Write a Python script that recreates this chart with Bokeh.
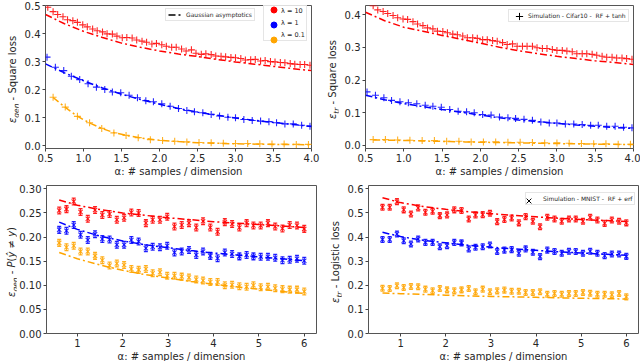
import numpy as np
from bokeh.plotting import figure
from bokeh.layouts import column, row
from bokeh.models import (FixedTicker, NumeralTickFormatter, Range1d, Legend,
                          LegendItem, Div, ColumnDataSource)
from bokeh.embed import file_html
from bokeh.resources import INLINE

FONT = "DejaVu Sans"
RED, BLUE, ORANGE = "#ff0000", "#0000ff", "#ffa500"
TXT = "#262626"

# ---------------- data: top panels (alpha 0.5 .. 4) ----------------
top_red_x = [0.53, 0.60, 0.66, 0.73, 0.79, 0.86, 0.92, 0.99, 1.05, 1.12,
             1.18, 1.25, 1.31, 1.38, 1.44, 1.51, 1.57, 1.64, 1.70, 1.77,
             1.83, 1.90, 1.96, 2.03, 2.09, 2.16, 2.22, 2.29, 2.35, 2.42,
             2.48, 2.55, 2.61, 2.68, 2.74, 2.81, 2.87, 2.94, 3.00, 3.07,
             3.13, 3.20, 3.26, 3.33, 3.39, 3.46, 3.52, 3.59, 3.65, 3.72,
             3.78, 3.85, 3.91, 3.98]
top_blue_x = [0.52, 0.63, 0.74, 0.84, 0.95, 1.06, 1.17, 1.28, 1.38, 1.49,
              1.60, 1.71, 1.82, 1.92, 2.03, 2.14, 2.25, 2.36, 2.46, 2.57,
              2.68, 2.79, 2.90, 3.00, 3.11, 3.22, 3.33, 3.44, 3.54, 3.65,
              3.76, 3.87, 3.98]
top_orange_x = [0.60, 0.76, 0.92, 1.08, 1.24, 1.40, 1.56, 1.72, 1.88, 2.04,
                2.20, 2.36, 2.52, 2.68, 2.84, 3.00, 3.16, 3.32, 3.48, 3.64,
                3.80, 3.96]

p1_red = [0.494, 0.478, 0.468, 0.460, 0.449, 0.446, 0.440, 0.431, 0.424, 0.416,
          0.410, 0.406, 0.399, 0.398, 0.391, 0.385, 0.386, 0.384, 0.377, 0.373,
          0.369, 0.363, 0.365, 0.360, 0.355, 0.351, 0.351, 0.345, 0.338, 0.342,
          0.330, 0.326, 0.328, 0.325, 0.320, 0.319, 0.317, 0.315, 0.314, 0.311,
          0.306, 0.307, 0.308, 0.302, 0.304, 0.300, 0.299, 0.297, 0.296, 0.293,
          0.291, 0.290, 0.290, 0.287]
p1_blue = [0.316, 0.280, 0.268, 0.248, 0.236, 0.221, 0.209, 0.201, 0.192, 0.189,
           0.180, 0.171, 0.161, 0.157, 0.150, 0.141, 0.133, 0.126, 0.121, 0.118,
           0.112, 0.106, 0.102, 0.100, 0.094, 0.090, 0.088, 0.086, 0.082, 0.078,
           0.078, 0.073, 0.070]
p1_orange = [0.173, 0.138, 0.105, 0.082, 0.062, 0.046, 0.037, 0.029, 0.022, 0.019,
             0.016, 0.014, 0.012, 0.011, 0.009, 0.008, 0.008, 0.007, 0.006, 0.006,
             0.005, 0.005]

p2_red = [0.428, 0.415, 0.410, 0.404, 0.398, 0.391, 0.387, 0.386, 0.379, 0.372,
          0.367, 0.360, 0.357, 0.350, 0.349, 0.345, 0.341, 0.339, 0.335, 0.330,
          0.330, 0.328, 0.324, 0.324, 0.321, 0.319, 0.315, 0.309, 0.311, 0.304,
          0.304, 0.304, 0.304, 0.299, 0.297, 0.297, 0.294, 0.291, 0.291, 0.289,
          0.287, 0.281, 0.281, 0.281, 0.279, 0.276, 0.273, 0.270, 0.270, 0.268,
          0.268, 0.266, 0.264]
p2_blue = [0.164, 0.154, 0.146, 0.138, 0.134, 0.131, 0.128, 0.123, 0.120, 0.117,
           0.110, 0.105, 0.103, 0.100, 0.095, 0.093, 0.087, 0.085, 0.083, 0.080,
           0.077, 0.072, 0.069, 0.069, 0.066, 0.066, 0.064, 0.062, 0.062, 0.059,
           0.059, 0.056, 0.054]
p2_orange = [0.018, 0.018, 0.017, 0.016, 0.015, 0.015, 0.013, 0.013, 0.011, 0.011,
             0.011, 0.010, 0.010, 0.009, 0.008, 0.008, 0.007, 0.006, 0.005, 0.005,
             0.004, 0.004]

th_top_x = [0.5, 0.75, 1.0, 1.25, 1.5, 1.75, 2.0, 2.25, 2.5, 2.75, 3.0, 3.25, 3.5, 3.75, 4.0]
p1_th_red = [0.468, 0.435, 0.408, 0.386, 0.366, 0.351, 0.338, 0.327, 0.318, 0.308,
             0.299, 0.291, 0.283, 0.275, 0.268]
p1_th_blue = [0.292, 0.260, 0.232, 0.206, 0.184, 0.165, 0.148, 0.133, 0.120, 0.109,
              0.099, 0.091, 0.083, 0.076, 0.069]
p2_th_red = [0.408, 0.382, 0.362, 0.350, 0.337, 0.325, 0.313, 0.301, 0.290, 0.281,
             0.273, 0.266, 0.259, 0.254, 0.248]
p2_th_blue = [0.154, 0.140, 0.128, 0.119, 0.110, 0.102, 0.093, 0.085, 0.078, 0.073,
              0.068, 0.063, 0.059, 0.055, 0.052]
th_top_orange_x = [0.6, 0.7, 0.8, 0.9, 1.0, 1.1, 1.25, 1.4, 1.6, 1.8, 2.0, 2.25, 2.5, 3.0, 3.5, 4.0]
p1_th_orange = [0.172, 0.150, 0.129, 0.109, 0.093, 0.079, 0.061, 0.047, 0.035, 0.026,
                0.020, 0.015, 0.011, 0.007, 0.005, 0.004]
p2_th_orange = [0.017, 0.017, 0.016, 0.016, 0.015, 0.015, 0.014, 0.013, 0.012, 0.011,
                0.010, 0.009, 0.008, 0.006, 0.004, 0.003]

# ---------------- data: bottom panels (alpha 0.6 .. 6) ----------------
bot_x = [0.60, 0.76, 0.92, 1.07, 1.23, 1.39, 1.55, 1.71, 1.87, 2.03,
         2.19, 2.35, 2.51, 2.66, 2.82, 2.98, 3.14, 3.30, 3.46, 3.62,
         3.77, 3.93, 4.09, 4.25, 4.41, 4.57, 4.73, 4.88, 5.04, 5.20,
         5.36, 5.52, 5.68, 5.84, 6.00]
p3_red = [0.255, 0.258, 0.274, 0.252, 0.238, 0.256, 0.246, 0.248, 0.236, 0.240,
          0.251, 0.250, 0.229, 0.236, 0.236, 0.242, 0.222, 0.225, 0.229, 0.220,
          0.233, 0.220, 0.211, 0.231, 0.227, 0.220, 0.229, 0.224, 0.224, 0.229,
          0.222, 0.218, 0.225, 0.224, 0.217]
p3_blue = [0.215, 0.213, 0.225, 0.205, 0.194, 0.206, 0.196, 0.195, 0.184, 0.184,
           0.194, 0.191, 0.177, 0.180, 0.179, 0.182, 0.168, 0.170, 0.173, 0.163,
           0.170, 0.161, 0.156, 0.168, 0.165, 0.160, 0.163, 0.160, 0.159, 0.159,
           0.157, 0.152, 0.153, 0.155, 0.151]
p3_orange = [0.188, 0.179, 0.182, 0.170, 0.170, 0.161, 0.152, 0.141, 0.145, 0.142,
             0.134, 0.132, 0.134, 0.125, 0.127, 0.120, 0.120, 0.118, 0.116, 0.112,
             0.110, 0.107, 0.107, 0.100, 0.101, 0.098, 0.097, 0.100, 0.096, 0.097,
             0.094, 0.092, 0.091, 0.091, 0.087]
p4_red = [0.524, 0.524, 0.547, 0.513, 0.496, 0.521, 0.503, 0.507, 0.489, 0.492,
          0.513, 0.510, 0.475, 0.492, 0.493, 0.499, 0.464, 0.473, 0.479, 0.459,
          0.485, 0.466, 0.443, 0.482, 0.475, 0.466, 0.475, 0.475, 0.466, 0.482,
          0.471, 0.457, 0.471, 0.466, 0.459]
p4_blue = [0.390, 0.390, 0.413, 0.385, 0.371, 0.392, 0.378, 0.378, 0.360, 0.364,
           0.378, 0.376, 0.351, 0.358, 0.360, 0.367, 0.340, 0.346, 0.348, 0.333,
           0.351, 0.337, 0.319, 0.346, 0.340, 0.333, 0.341, 0.340, 0.333, 0.341,
           0.333, 0.323, 0.330, 0.330, 0.320]
p4_orange = [0.188, 0.187, 0.198, 0.191, 0.195, 0.194, 0.184, 0.177, 0.187, 0.181,
             0.177, 0.181, 0.187, 0.173, 0.184, 0.173, 0.177, 0.180, 0.175, 0.175,
             0.170, 0.170, 0.173, 0.163, 0.166, 0.163, 0.166, 0.166, 0.170, 0.167,
             0.163, 0.163, 0.161, 0.166, 0.152]
err_p3 = 0.007
err_p4 = 0.012

th_bot_x = [0.6, 1.0, 1.5, 2.0, 2.5, 3.0, 3.5, 4.0, 4.5, 5.0, 5.5, 6.0]
p3_th_red = [0.277, 0.266, 0.257, 0.250, 0.245, 0.240, 0.236, 0.232, 0.229, 0.226, 0.223, 0.220]
p3_th_blue = [0.231, 0.216, 0.202, 0.192, 0.184, 0.178, 0.172, 0.167, 0.163, 0.159, 0.155, 0.151]
p3_th_orange = [0.168, 0.155, 0.142, 0.131, 0.122, 0.115, 0.108, 0.102, 0.097, 0.092, 0.087, 0.083]
p4_th_red = [0.563, 0.543, 0.527, 0.515, 0.505, 0.497, 0.490, 0.484, 0.478, 0.473, 0.469, 0.465]
p4_th_blue = [0.420, 0.402, 0.387, 0.376, 0.366, 0.358, 0.351, 0.345, 0.339, 0.334, 0.329, 0.325]
p4_th_orange = [0.168, 0.165, 0.162, 0.159, 0.156, 0.154, 0.152, 0.150, 0.148, 0.146, 0.145, 0.143]

top_xticks = [0.5, 1.0, 1.5, 2.0, 2.5, 3.0, 3.5, 4.0]
bot_xticks = [1, 2, 3, 4, 5, 6]
p1_yticks = [0.0, 0.1, 0.2, 0.3, 0.4, 0.5]
p2_yticks = [0.0, 0.1, 0.2, 0.3, 0.4]
p3_yticks = [0.0, 0.05, 0.10, 0.15, 0.20, 0.25, 0.30]
p4_yticks = [0.0, 0.1, 0.2, 0.3, 0.4, 0.5, 0.6]

XLABEL = "α: # samples / dimension"
DASH = "7 3 2 3"


def make_fig(fw, fh, bl, br, bt, bb, xr, yr, xticks, yticks, xfmt, yfmt):
    p = figure(frame_width=fw, frame_height=fh, min_border_left=bl,
               min_border_right=br, min_border_top=bt, min_border_bottom=bb,
               x_range=Range1d(*xr), y_range=Range1d(*yr),
               output_backend="svg", toolbar_location=None, tools="")
    p.xgrid.visible = False
    p.ygrid.visible = False
    p.outline_line_color = "#555555"
    p.outline_line_width = 1
    p.background_fill_color = "white"
    p.border_fill_color = "white"
    for ax in (p.xaxis[0], p.yaxis[0]):
        ax.axis_line_color = None
        ax.major_tick_in = 0
        ax.major_tick_out = 3
        ax.major_tick_line_color = "#444444"
        ax.minor_tick_line_color = None
        ax.major_label_text_font = FONT
        ax.major_label_text_font_size = "10px"
        ax.major_label_text_color = TXT
        ax.major_label_standoff = 2
    p.xaxis.ticker = FixedTicker(ticks=xticks)
    p.yaxis.ticker = FixedTicker(ticks=yticks)
    p.xaxis.formatter = NumeralTickFormatter(format=xfmt)
    p.yaxis.formatter = NumeralTickFormatter(format=yfmt)
    p.xaxis.axis_label = XLABEL
    p.xaxis.axis_label_text_font = FONT
    p.xaxis.axis_label_text_font_size = "10px"
    p.xaxis.axis_label_text_font_style = "normal"
    p.xaxis.axis_label_text_color = TXT
    p.xaxis.axis_label_standoff = 1
    return p


def ylabel_div(html, width, height, center_y, center_x):
    L = 2 * center_y
    box = 12
    inner = (f'<div style="display:block;width:{L}px;height:{box}px;line-height:{box}px;'
             f'text-align:center;white-space:nowrap;font-family:\'DejaVu Sans\';'
             f'font-size:10px;color:{TXT};transform-origin:0 0;'
             f'transform:translate({center_x - box / 2}px,{L}px) rotate(-90deg);">{html}</div>')
    return Div(text=inner, width=width, height=height, margin=0,
               styles={"overflow": "visible"})


def sub(t):
    return f'<i style="font-size:7.5px;line-height:0;vertical-align:-2.5px;">{t}</i>'


def theory(p, x, y, color):
    p.line(x, y, line_color=color, line_width=1.5, line_dash=DASH)


def sim_plus(p, x, y, color):
    p.scatter(x, y, marker="cross", size=7, line_color=color, line_width=1.1,
              line_alpha=0.85)


def sim_x(p, x, y, color, err):
    lo = [v - err for v in y]
    hi = [v + err for v in y]
    p.segment(x, lo, x, hi, line_color=color, line_width=1.3, line_alpha=0.85)
    p.scatter(x, lo, marker="dash", size=4, line_color=color, line_width=1.3, line_alpha=0.85)
    p.scatter(x, hi, marker="dash", size=4, line_color=color, line_width=1.3, line_alpha=0.85)
    p.scatter(x, y, marker="x", size=6, line_color=color, line_width=1.1, line_alpha=0.85)


def legend(p, items, loc, gw, gh, lh, standoff, pad, spacing, fs="6px", boxed=True):
    lg = Legend(items=items, location=loc, orientation="vertical",
                label_text_font=FONT, label_text_font_size=fs,
                label_text_color=TXT, label_height=lh, glyph_height=gh,
                glyph_width=gw, label_standoff=standoff, padding=pad,
                spacing=spacing, margin=0, click_policy="none")
    if boxed:
        lg.border_line_color = "#cccccc"
        lg.border_line_width = 1
        lg.background_fill_alpha = 0.9
    else:
        lg.border_line_color = None
        lg.background_fill_alpha = 0.0
    p.add_layout(lg)


def proxy_src(x, y):
    # one real data point, only used so that a legend can draw its glyph
    return ColumnDataSource(dict(x=x[:1], y=y[:1]))


def blank_proxy(p, x, y):
    return p.line("x", "y", source=proxy_src(x, y), line_alpha=0.0, visible=False)


# ---------------- panel 1 ----------------
p1 = make_fig(266, 143, 27, 9, 5, 32, (0.5, 4.0), (-0.0096, 0.5),
              top_xticks, p1_yticks, "0.0", "0.0")
theory(p1, th_top_x, p1_th_red, RED)
theory(p1, th_top_x, p1_th_blue, BLUE)
theory(p1, th_top_orange_x, p1_th_orange, ORANGE)
sim_plus(p1, top_red_x, p1_red, RED)
sim_plus(p1, top_blue_x, p1_blue, BLUE)
sim_plus(p1, top_orange_x, p1_orange, ORANGE)
proxy_line = p1.line("x", "y", source=proxy_src(th_top_x, p1_th_red),
                     line_color="black", line_width=1.5, line_dash=DASH, visible=False)
legend(p1, [LegendItem(label="Gaussian asymptotics", renderers=[proxy_line])],
       (120, 127), 15, 7, 7, 3, 2, 0)
blank1 = blank_proxy(p1, th_top_x, p1_th_red)
legend(p1, [LegendItem(label="λ = 10", renderers=[blank1]),
            LegendItem(label="λ = 1", renderers=[blank1]),
            LegendItem(label="λ = 0.1", renderers=[blank1])],
       (218, 107), 8, 7, 7, 8, 1, 4, fs="6.5px")
dots = [p1.scatter("x", "y", source=proxy_src(th_top_x, p1_th_red),
                   marker="circle", size=6, fill_color=c, line_color=c, visible=False)
        for c in (RED, BLUE, ORANGE)]
legend(p1, [LegendItem(label=" ", renderers=[dots[0]]),
            LegendItem(label=" ", renderers=[dots[1]]),
            LegendItem(label=" ", renderers=[dots[2]])],
       (221, 101), 15, 15, 7, 0, 0, -4, boxed=False)
d1 = ylabel_div(f"<i>ε</i>{sub('gen')} - Square loss", 18, 180, 76.5, 13)

# ---------------- panel 2 ----------------
p2 = make_fig(268, 143, 27, 7, 5, 32, (0.5, 4.0), (-0.0092, 0.4285),
              top_xticks, p2_yticks, "0.0", "0.0")
theory(p2, th_top_x, p2_th_red, RED)
theory(p2, th_top_x, p2_th_blue, BLUE)
theory(p2, th_top_orange_x, p2_th_orange, ORANGE)
sim_plus(p2, top_red_x[1:], p2_red, RED)
sim_plus(p2, top_blue_x, p2_blue, BLUE)
sim_plus(p2, top_orange_x, p2_orange, ORANGE)
blank2 = blank_proxy(p2, th_top_x, p2_th_red)
legend(p2, [LegendItem(label="Simulation - Cifar10 -  RF + tanh", renderers=[blank2])],
       (143, 126), 13, 7, 7, 4, 2, 0)
proxy_plus = p2.scatter("x", "y", source=proxy_src(th_top_x, p2_th_red),
                        marker="cross", size=7, line_color="black", line_width=1,
                        visible=False)
legend(p2, [LegendItem(label=" ", renderers=[proxy_plus])],
       (145, 123), 18, 18, 7, 0, 0, 0, boxed=False)
d2 = ylabel_div(f"<i>ε</i>{sub('tr')} - Square loss", 18, 180, 76.5, 13)

# ---------------- panel 3 ----------------
p3 = make_fig(270, 148, 27, 7, 5, 28, (0.32, 6.27), (0.0, 0.307),
              bot_xticks, p3_yticks, "0", "0.00")
theory(p3, th_bot_x, p3_th_red, RED)
theory(p3, th_bot_x, p3_th_blue, BLUE)
theory(p3, th_bot_x, p3_th_orange, ORANGE)
sim_x(p3, bot_x, p3_red, RED, err_p3)
sim_x(p3, bot_x, p3_blue, BLUE, err_p3)
sim_x(p3, bot_x, p3_orange, ORANGE, err_p3)
d3 = ylabel_div(f"<i>ε</i>{sub('gen')} - <i>P</i>(<i>ŷ</i> ≠ <i>y</i>)", 16, 181, 79, 12)

# ---------------- panel 4 ----------------
p4 = make_fig(270, 148, 27, 5, 5, 28, (0.29, 6.27), (0.0, 0.614),
              bot_xticks, p4_yticks, "0", "0.0")
theory(p4, th_bot_x, p4_th_red, RED)
theory(p4, th_bot_x, p4_th_blue, BLUE)
theory(p4, th_bot_x, p4_th_orange, ORANGE)
sim_x(p4, bot_x, p4_red, RED, err_p4)
sim_x(p4, bot_x, p4_blue, BLUE, err_p4)
sim_x(p4, bot_x, p4_orange, ORANGE, err_p4)
blank4 = blank_proxy(p4, th_bot_x, p4_th_red)
legend(p4, [LegendItem(label="Simulation - MNIST -  RF + erf", renderers=[blank4])],
       (157, 128), 10, 7, 7, 5, 2, 0)
proxy_x = p4.scatter("x", "y", source=proxy_src(th_bot_x, p4_th_red),
                     marker="x", size=7, line_color="black", line_width=1,
                     visible=False)
legend(p4, [LegendItem(label=" ", renderers=[proxy_x])],
       (152, 124), 17, 17, 7, 0, 0, 0, boxed=False)
d4 = ylabel_div(f"<i>ε</i>{sub('tr')} - Logistic loss", 18, 181, 79, 13)

root = column(row(d1, p1, d2, p2), row(d3, p3, d4, p4))

with open("out.html", "w") as f:
    f.write(file_html(root, INLINE))
